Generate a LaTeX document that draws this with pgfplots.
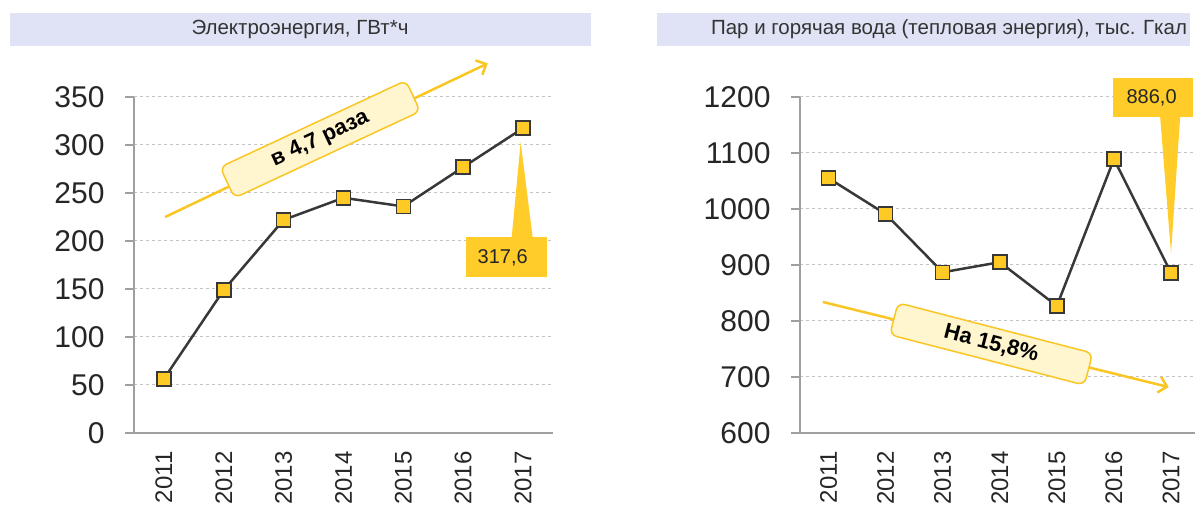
\documentclass[border=0pt]{standalone}
\usepackage{fontspec}
\setmainfont{Liberation Sans}
\usepackage{pgfplots}
\pgfplotsset{compat=1.18}
\usetikzlibrary{arrows.meta}
\definecolor{gold}{HTML}{FFC926}
\definecolor{callout}{HTML}{FFCC29}
\definecolor{arrowc}{HTML}{F9C623}
\definecolor{boxfill}{HTML}{FFF5CF}
\definecolor{barc}{HTML}{DFE3F5}
\definecolor{gridc}{HTML}{C4C4C4}
\definecolor{axisc}{HTML}{A0A0A0}
\definecolor{linec}{HTML}{383838}
\pgfplotsset{mystyle/.style={
  scale only axis, height=336pt,
  axis x line*=bottom, axis y line*=left,
  axis line style={axisc, line width=2pt, -},
  xmin=2010.5,
  xtick={2011,2012,2013,2014,2015,2016,2017},
  /pgf/number format/1000 sep={},
  /pgf/number format/assume math mode=true,
  x tick label style={yshift=-6pt, rotate=90, anchor=east, font=\fontsize{24}{28}\selectfont, color=black!85},
  y tick label style={xshift=-17pt, font=\fontsize{30}{36}\selectfont, color=black!85},
  ymajorgrids, grid style={gridc, dash pattern=on 3pt off 3pt, line width=1pt},
  tick align=outside, major tick length=9pt,
  ytick style={axisc, line width=2pt},
  xtick style={draw=none},
  clip=false,
}}
\pgfplotsset{serie/.style={linec, line width=2.5pt, mark=square*, mark size=7pt,
  mark options={fill=gold, draw=linec, line width=1.5pt, solid}}}
\begin{document}
\begin{tikzpicture}
\useasboundingbox (0,0) rectangle (1197pt,506pt);
\fill[barc] (9.6pt,460pt) rectangle (591pt,493pt);
\node[font=\fontsize{20.5}{24}\selectfont, color=black!80] at (300pt,476.5pt) {Электроэнергия, ГВт*ч};
\fill[barc] (657pt,460pt) rectangle (1190pt,493pt);
\node[font=\fontsize{20.5}{24}\selectfont, color=black!80] at (949pt,476.5pt) {Пар и горячая вода (тепловая энергия), тыс. Гкал};

\begin{axis}[mystyle, at={(134pt,73pt)}, anchor=south west, width=419pt,
  xmax=2017.5, ymin=0, ymax=350, ytick={0,50,...,350}]
\fill[callout] (axis cs:2016.04,162.5) rectangle (axis cs:2017.40,204);
\fill[callout] (axis cs:2016.81,204) -- (axis cs:2016.96,303) -- (axis cs:2017.16,204) -- cycle;
\node[font=\fontsize{20}{24}\selectfont, color=black!85] at (axis cs:2016.66,182.8) {317,6};
\draw[arrowc, line width=2.5pt, -{Straight Barb[length=8pt,width=16pt]}] (axis cs:2011.02,225) -- (axis cs:2016.41,385);
\node[draw=arrowc, fill=boxfill, rounded corners=7pt, line width=1.5pt, rotate=25, minimum width=205pt, minimum height=34pt, inner sep=0pt, font=\bfseries\fontsize{22}{26}\selectfont] at (axis cs:2013.61,306) {в 4,7 раза};
\addplot[serie] coordinates {(2011,56.5) (2012,149) (2013,222) (2014,245) (2015,236) (2016,277) (2017,317.6)};
\end{axis}

\begin{axis}[mystyle, at={(800pt,73pt)}, anchor=south west, width=395pt,
  xmax=2017.42, ymin=600, ymax=1200, ytick={600,700,...,1200}]
\fill[callout] (axis cs:2015.98,1164) rectangle (axis cs:2017.39,1234);
\fill[callout] (axis cs:2016.81,1164) -- (axis cs:2017.0,921) -- (axis cs:2017.16,1164) -- cycle;
\node[font=\fontsize{20}{24}\selectfont, color=black!85] at (axis cs:2016.66,1199) {886,0};
\draw[arrowc, line width=2.5pt, -{Straight Barb[length=8pt,width=16pt]}] (axis cs:2010.9,834) -- (axis cs:2016.96,682);
\node[draw=arrowc, fill=boxfill, rounded corners=7pt, line width=1.5pt, rotate=-14.5, minimum width=201pt, minimum height=33pt, inner sep=0pt, font=\bfseries\fontsize{22}{26}\selectfont] at (axis cs:2013.85,759) {На 15,8\%};
\addplot[serie] coordinates {(2011,1055) (2012,991) (2013,887) (2014,905) (2015,827) (2016,1089) (2017,886)};
\end{axis}
\end{tikzpicture}
\end{document}
